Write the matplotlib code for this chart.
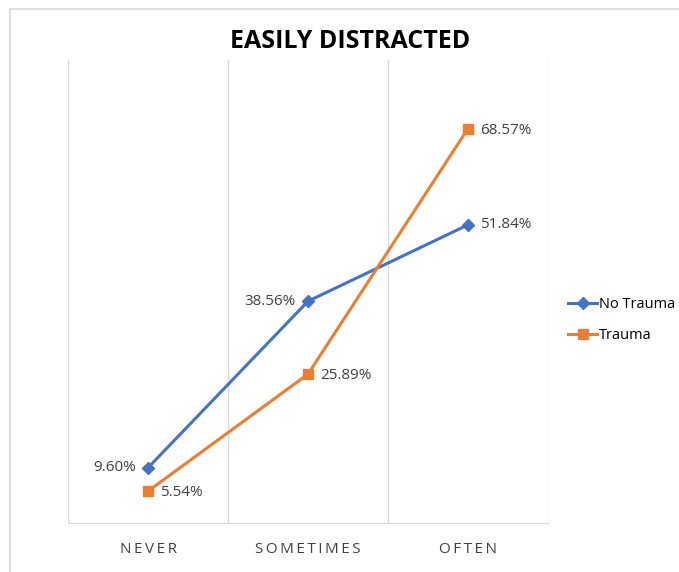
import matplotlib.pyplot as plt
from matplotlib.patches import Rectangle

plt.rcParams['font.family'] = ['Open Sans', 'DejaVu Sans']

categories = ['NEVER', 'SOMETIMES', 'OFTEN']
no_trauma = [9.60, 38.56, 51.84]
trauma = [5.54, 25.89, 68.57]
no_trauma_labels = ['9.60%', '38.56%', '51.84%']
trauma_labels = ['5.54%', '25.89%', '68.57%']

blue = '#4472C4'
orange = '#ED7D31'
grid = '#D9D9D9'

fig = plt.figure(figsize=(6.79, 5.72), dpi=100)
ax = fig.add_axes([68/679, 1-523/572, 480/679, 463/572])

x = list(range(len(categories)))
ax.plot(x, no_trauma, color=blue, lw=2.2, marker='D', ms=6, label='No Trauma')
ax.plot(x, trauma, color=orange, lw=2.2, marker='s', ms=6.5, label='Trauma')

# data labels
for i, (v, s) in enumerate(zip(no_trauma, no_trauma_labels)):
    if i < 2:
        ax.annotate(s, (i, v), xytext=(-9, 0), textcoords='offset points',
                    ha='right', va='center', fontsize=11, color='#404040')
    else:
        ax.annotate(s, (i, v), xytext=(9, 0), textcoords='offset points',
                    ha='left', va='center', fontsize=11, color='#404040')
for i, (v, s) in enumerate(zip(trauma, trauma_labels)):
    ax.annotate(s, (i, v), xytext=(9, -1), textcoords='offset points',
                ha='left', va='center', fontsize=11, color='#404040')

ax.set_xlim(-0.5, 2.5)
ax.set_ylim(0, 80.5)
ax.set_yticks([])
ax.set_xticks(x)
# spaced-out category labels, as in the original
ax.set_xticklabels(['\u2009'.join(c) for c in categories], fontsize=11,
                   color='#404040')
ax.tick_params(axis='x', length=0, pad=14)
for xv in [-0.5, 0.5, 1.5, 2.5]:
    ax.axvline(xv, color=grid, lw=1, zorder=0)
for side in ['top', 'left', 'right']:
    ax.spines[side].set_visible(False)
ax.spines['bottom'].set_color(grid)

fig.text(350/679, 1-42/572, 'EASILY DISTRACTED', ha='center', va='center',
         fontsize=18, fontweight='bold', color='black')

leg = fig.legend(loc='center left', bbox_to_anchor=(561/679, 1-320/572),
                 frameon=False, fontsize=10.5, handlelength=2.0,
                 handletextpad=0.1, labelspacing=1.1, borderpad=0)

fig.add_artist(Rectangle((10/679, -0.1), 1.2, 1.1 - 9/572, transform=fig.transFigure,
                         fill=False, edgecolor=grid, lw=1.2))

fig.savefig('out.png', dpi=100)
